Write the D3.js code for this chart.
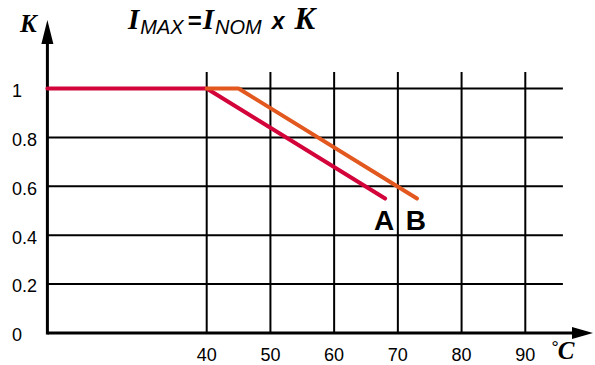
<!DOCTYPE html>
<html lang="en">
<head>
<meta charset="UTF-8">
<title>Derating curve</title>
<script src="https://d3js.org/d3.v7.min.js"></script>
<style>
    body { margin: 0; background: #fff; }
    .tick-label { font-family: "Liberation Sans", Arial, sans-serif; font-size: 18px; fill: #000; }
    .grid line { stroke: #000; stroke-width: 2px; }
    .series { fill: none; stroke-width: 4px; stroke-linecap: round; stroke-linejoin: round; }
    .curve-name { font-family: "Liberation Sans", Arial, sans-serif; font-size: 28px; font-weight: bold; }
</style>
</head>
<body>
<svg width="595" height="365"></svg>
<script>
    // tick values
    const xTicks = [40, 50, 60, 70, 80, 90];
    const yTicks = [0, 0.2, 0.4, 0.6, 0.8, 1];
    const yTickLabels = ["0", "0.2", "0.4", "0.6", "0.8", "1"];

    // curve A and curve B: temperature (°C) -> K
    const tempA = [15, 40, 68];
    const kA = [1, 1, 0.55];
    const tempB = [40, 45, 73];
    const kB = [1, 1, 0.55];
    const curveNames = ["A", "B"];
    const curveColors = ["#d2043a", "#e2581f"];

    const svg = d3.select("svg");

    // axis starts at 15 °C, 40..90 tick spacing about 63.7 px
    const x = d3.scaleLinear().domain([15, 90]).range([47.4, 525.3]);
    const y = d3.scaleLinear().domain([0, 1]).range([333, 88.5]);

    // horizontal grid (0.2 .. 1)
    svg.append("g").attr("class", "grid")
        .selectAll("line")
        .data(yTicks.filter(d => d > 0))
        .enter().append("line")
        .attr("x1", x(15)).attr("x2", x(95.9))
        .attr("y1", d => y(d)).attr("y2", d => y(d));

    // vertical grid
    svg.append("g").attr("class", "grid")
        .selectAll("line")
        .data(xTicks)
        .enter().append("line")
        .attr("x1", d => x(d)).attr("x2", d => x(d))
        .attr("y1", y(0)).attr("y2", y(1.067));

    // axes with arrows
    svg.append("line")
        .attr("x1", x(15)).attr("x2", 574)
        .attr("y1", y(0)).attr("y2", y(0))
        .attr("stroke", "#000").attr("stroke-width", 3);
    svg.append("path")
        .attr("d", `M572,${y(0) - 6}L593,${y(0)}L572,${y(0) + 6}Z`)
        .attr("fill", "#000");

    svg.append("line")
        .attr("x1", x(15)).attr("x2", x(15))
        .attr("y1", y(0) + 1.5).attr("y2", 42)
        .attr("stroke", "#000").attr("stroke-width", 3);
    svg.append("path")
        .attr("d", `M${x(15) - 6},44L${x(15)},20L${x(15) + 6},44Z`)
        .attr("fill", "#000");

    // tick labels
    svg.append("g").selectAll("text")
        .data(xTicks)
        .enter().append("text")
        .attr("class", "tick-label")
        .attr("x", d => x(d))
        .attr("y", 361)
        .attr("text-anchor", "middle")
        .text(d => d);

    svg.append("g").selectAll("text")
        .data(yTicks)
        .enter().append("text")
        .attr("class", "tick-label")
        .attr("x", 12)
        .attr("y", d => y(d) + 2)
        .attr("dy", "0.35em")
        .text((d, i) => yTickLabels[i]);

    // curves
    const line = d3.line().x(d => x(d[0])).y(d => y(d[1]));
    const curves = [d3.zip(tempA, kA), d3.zip(tempB, kB)];

    svg.append("g").selectAll("path")
        .data(curves)
        .enter().append("path")
        .attr("class", "series")
        .attr("stroke", (d, i) => curveColors[i])
        .attr("d", line);

    svg.append("g").selectAll("text")
        .data(curves)
        .enter().append("text")
        .attr("class", "curve-name")
        .attr("x", d => x(d[d.length - 1][0]) - 1)
        .attr("y", 230)
        .attr("text-anchor", "middle")
        .text((d, i) => curveNames[i]);

    const serif = "'Liberation Serif', 'Times New Roman', serif";
    const sans = "'Liberation Sans', Arial, sans-serif";

    // axis names
    svg.append("text")
        .attr("x", 20).attr("y", 32)
        .attr("font-family", serif)
        .attr("font-weight", "bold").attr("font-style", "italic")
        .attr("font-size", 25)
        .text("K");

    const unit = svg.append("text")
        .attr("x", 551).attr("y", 359)
        .attr("font-family", serif)
        .attr("font-weight", "bold").attr("font-style", "italic");
    unit.append("tspan").attr("font-size", 17).attr("dy", -7).text("°");
    unit.append("tspan").attr("font-size", 25).attr("dy", 7).text("C");

    // formula
    const title = svg.append("text").attr("x", 128).attr("y", 29);
    title.append("tspan").attr("font-family", serif).attr("font-weight", "bold")
        .attr("font-style", "italic").attr("font-size", 29).text("I");
    title.append("tspan").attr("font-family", sans).attr("font-style", "italic")
        .attr("font-size", 20).attr("dy", 5).attr("dx", 1).text("MAX");
    title.append("tspan").attr("font-family", sans).attr("font-weight", "bold")
        .attr("font-size", 24).attr("dy", -5).attr("dx", 4).text("=");
    title.append("tspan").attr("font-family", serif).attr("font-weight", "bold")
        .attr("font-style", "italic").attr("font-size", 29).attr("dx", 1).text("I");
    title.append("tspan").attr("font-family", sans).attr("font-style", "italic")
        .attr("font-size", 20).attr("dy", 5).attr("dx", 1).text("NOM");
    title.append("tspan").attr("font-family", sans).attr("font-style", "italic")
        .attr("font-weight", "bold").attr("font-size", 23).attr("dy", -5).attr("dx", 10).text("x");
    title.append("tspan").attr("font-family", serif).attr("font-weight", "bold")
        .attr("font-style", "italic").attr("font-size", 31).attr("dx", 10).text("K");
</script>
</body>
</html>
